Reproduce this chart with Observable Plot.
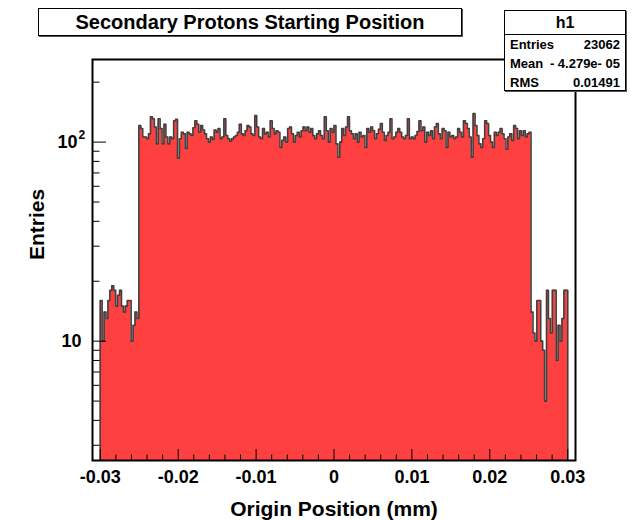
<!DOCTYPE html>
<html><head><meta charset="utf-8">
<script src="https://cdn.jsdelivr.net/npm/d3@7"></script>
<script src="https://cdn.jsdelivr.net/npm/@observablehq/plot@0.6"></script>
<style>
body{margin:0;background:#fff;}
#wrap{position:relative;width:641px;height:520px;font-family:"Liberation Sans",Arial,Helvetica,sans-serif;font-weight:bold;color:#000;}
#chart{position:absolute;left:0;top:0;}
.box{position:absolute;background:#fff;border:1px solid #000;box-shadow:1px 1px 0 #555;box-sizing:border-box;}
#title{left:38px;top:8px;width:424px;height:28px;font-size:20px;line-height:26px;text-align:center;}
#stats{left:504px;top:10px;width:122px;height:81px;}
#stats .hdr{height:23px;border-bottom:1px solid #000;text-align:center;font-size:16px;line-height:24px;}
#stats .row{position:relative;height:19.2px;font-size:13px;line-height:19px;}
#stats .row .l{position:absolute;left:5px;}
#stats .row .v{position:absolute;right:5px;}
</style></head>
<body><div id="wrap"><div id="chart"></div><div id="title" class="box"></div><div id="stats" class="box"></div></div>
<script>
const titleText = "Secondary Protons Starting Position";
const xLabel = "Origin Position (mm)";
const yLabel = "Entries";
const histName = "h1";
const statLabels = ["Entries", "Mean", "RMS"];
const statValues = ["23062", "- 4.279e- 05", "0.01491"];

// histogram binning
const nBins = 250, xLow = -0.031, xHigh = 0.031, firstFilledBin = 4;

// bin contents (bins 4..23)
const leftTail = [16,10,14,13,16,18,19,18,15,17,18,15,14,15,16,16,10,12,14,13];
// bins 24..226
const central = [
121,117,106,106,104,110,134,131,119,98,
131,117,98,123,106,98,106,104,128,130,
83,104,112,110,93,112,110,108,118,128,
123,112,121,115,110,104,100,106,103,115,
112,117,104,106,131,108,104,101,104,106,
108,112,123,110,108,114,121,119,110,108,
136,119,106,104,117,110,112,106,128,
117,110,114,112,94,102,106,100,117,119,
110,100,108,112,106,114,119,114,119,112,
117,108,104,110,114,108,104,134,114,100,
117,112,121,98,84,100,117,108,119,134,
114,110,104,110,100,112,106,108,94,117,
112,119,114,104,110,116,124,112,102,108,
112,131,104,106,112,117,112,
106,104,108,131,104,106,104,108,113,128,
114,119,100,112,108,114,104,119,124,110,
104,117,114,94,112,106,108,104,106,117,
112,106,128,124,117,106,84,139,121,108,
98,94,104,128,124,108,100,94,112,108,
112,117,110,104,92,106,110,102,121,117,
104,114,108,114,106,110,112];
// bins 227..245
const rightTail = [14,11,10,16,16,10,9,5,18,13,11,18,18,8,12,10,13,18,18];

const xTickValues = [-0.03, -0.02, -0.01, 0, 0.01, 0.02, 0.03];
const xTickLabels = ["-0.03", "-0.02", "-0.01", "0", "0.01", "0.02", "0.03"];
const yTickValues = [10, 100];
const yTickMantissa = ["10", "10"];
const yTickExponent = ["", "2"];
const yMinorTicks = [3,4,5,6,7,8,9,20,30,40,50,60,70,80,90,200];
const yMin = 2.515, yMax = 260;

document.getElementById("title").textContent = titleText;
const st = document.getElementById("stats");
let html = `<div class="hdr">${histName}</div>`;
statLabels.forEach((l, i) => { html += `<div class="row"><span class="l">${l}</span><span class="v">${statValues[i]}</span></div>`; });
st.innerHTML = html;

const counts = [...leftTail, ...central, ...rightTail];
const binW = (xHigh - xLow) / nBins;
const steps = [{x: xLow + firstFilledBin * binW, y: yMin}];
counts.forEach((c, i) => {
  const k = firstFilledBin + i;
  steps.push({x: xLow + k * binW, y: c}, {x: xLow + (k + 1) * binW, y: c});
});
steps.push({x: xLow + (firstFilledBin + counts.length) * binW, y: yMin});

const xMinor = d3.range(-15, 16).map(i => i * 0.002).filter(v => Math.abs(Math.round(v * 1000) % 10) !== 0);

const yTicks = yTickValues.map((v, i) => ({v, m: yTickMantissa[i], e: yTickExponent[i]}));
const yPlain = yTicks.filter(d => !d.e);
const yPow = yTicks.filter(d => d.e);

const W = 641, H = 520, mL = 92, mR = 66, mT = 59, mB = 60;
const fW = W - mL - mR, fH = H - mT - mB;
const font = `"Liberation Sans", Arial, Helvetica, sans-serif`;

const chart = Plot.plot({
  width: W, height: H,
  marginLeft: mL, marginRight: mR, marginTop: mT, marginBottom: mB,
  style: {fontFamily: font, background: "#fff", color: "#000"},
  x: {domain: [xLow, xHigh]},
  y: {type: "log", domain: [yMin, yMax], axis: null},
  marks: [
    Plot.areaY(steps, {x: "x", y1: d => yMin, y2: "y", fill: "#ff4040", clip: true}),
    Plot.line(steps, {x: "x", y: "y", stroke: "#404040", strokeWidth: 1.6, clip: true}),
    Plot.tickX(xTickValues, {x: d => d, insetTop: fH - 11, stroke: "#000", strokeWidth: 1}),
    Plot.tickX(xMinor, {x: d => d, insetTop: fH - 5.5, stroke: "#000", strokeWidth: 1}),
    Plot.tickY(yTickValues, {y: d => d, insetRight: fW - 14, stroke: "#000", strokeWidth: 1}),
    Plot.tickY(yMinorTicks, {y: d => d, insetRight: fW - 7.5, stroke: "#000", strokeWidth: 1}),
    Plot.axisX(xTickValues, {tickSize: 0, tickPadding: 10, label: null, fontSize: 18, fontWeight: "bold",
      tickFormat: d => xTickLabels[xTickValues.indexOf(d)]}),
    Plot.text(yPlain, {y: "v", text: "m", frameAnchor: "left", textAnchor: "end", dx: -11, fontSize: 18, fontWeight: "bold", fill: "#000"}),
    Plot.text(yPow, {y: "v", text: "m", frameAnchor: "left", textAnchor: "end", dx: -15, fontSize: 18, fontWeight: "bold", fill: "#000"}),
    Plot.text(yPow, {y: "v", text: "e", frameAnchor: "left", textAnchor: "start", dx: -14, dy: -7, fontSize: 12, fontWeight: "bold", fill: "#000"}),
    Plot.text([xLabel], {text: d => d, frameAnchor: "bottom", lineAnchor: "bottom", dy: 55, fontSize: 21, fontWeight: "bold", fill: "#000"}),
    Plot.text([yLabel], {text: d => d, frameAnchor: "left", lineAnchor: "bottom", rotate: -90, dx: -49, fontSize: 21, fontWeight: "bold", fill: "#000"}),
    Plot.frame({stroke: "#000", strokeWidth: 2})
  ]
});
document.getElementById("chart").appendChild(chart);
</script>
</body></html>
